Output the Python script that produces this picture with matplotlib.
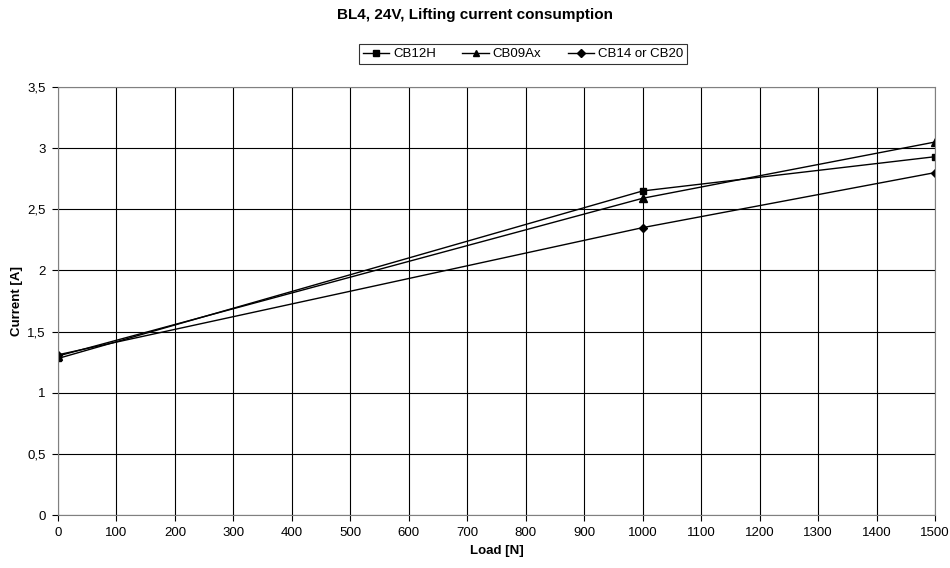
import matplotlib.pyplot as plt
from matplotlib.ticker import FuncFormatter

plt.rcParams['font.family'] = ['Liberation Sans', 'DejaVu Sans']

load = [0, 1000, 1500]
cb12h = [1.28, 2.65, 2.93]
cb09ax = [1.30, 2.59, 3.05]
cb14 = [1.31, 2.35, 2.80]

fig = plt.figure(figsize=(9.5, 5.68), dpi=100)
ax = fig.add_axes([58 / 950, 1 - 515 / 568, 877 / 950, 428 / 568])

ax.plot(load, cb12h, color='black', lw=1, marker='s', ms=5, label='CB12H')
ax.plot(load, cb09ax, color='black', lw=1, marker='^', ms=5.5, label='CB09Ax')
ax.plot(load, cb14, color='black', lw=1, marker='D', ms=4, label='CB14 or CB20')

ax.set_xlim(0, 1500)
ax.set_ylim(0, 3.5)
ax.set_xticks(range(0, 1501, 100))
ax.set_yticks([i * 0.5 for i in range(8)])
ax.yaxis.set_major_formatter(FuncFormatter(lambda v, p: f'{v:g}'.replace('.', ',')))
ax.grid(True, color='black', lw=0.8)
ax.set_axisbelow(True)
for s in ax.spines.values():
    s.set_color('#808080')
ax.tick_params(labelsize=9.5, length=4, color='black', pad=5)

ax.set_xlabel('Load [N]', fontsize=9.5, fontweight='bold', labelpad=4)
ax.set_ylabel('Current [A]', fontsize=9.5, fontweight='bold', labelpad=3)
fig.text(0.5, 1 - 15 / 568, 'BL4, 24V, Lifting current consumption', ha='center', va='center',
         fontsize=11, fontweight='bold')

leg = fig.legend(loc='center', bbox_to_anchor=(523 / 950, 1 - 54 / 568), ncol=3, fontsize=9.5,
                 frameon=True, fancybox=False, edgecolor='black', handlelength=2.0,
                 columnspacing=2.0, handletextpad=0.3, borderpad=0.3, markerscale=0.9)
leg.get_frame().set_linewidth(0.8)

fig.savefig('out.png', dpi=100)
